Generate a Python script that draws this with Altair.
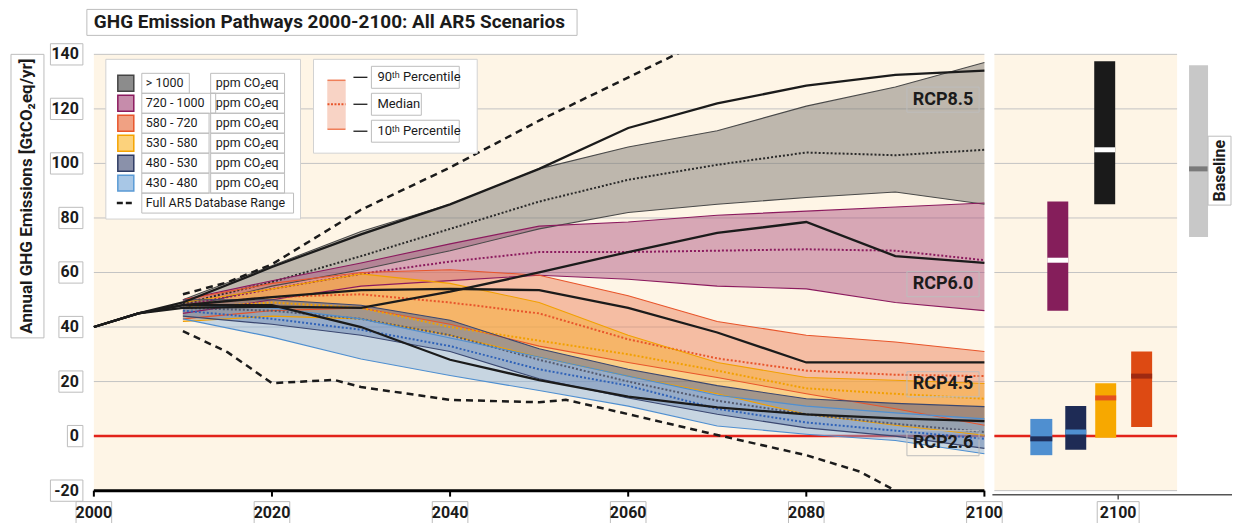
import altair as alt
import pandas as pd

FONT = "Roboto, Liberation Sans, sans-serif"
INK = "#1b1b1b"
BEIGE = "#FEF5E6"
GRID = "#C4C4C4"
BOXC = "#BDBDBD"

# ---------------- data ----------------
band_years = [2010, 2020, 2030, 2040, 2050, 2060, 2070, 2080, 2090, 2100]
categories = ["> 1000", "720 - 1000", "580 - 720", "530 - 580", "480 - 530", "430 - 480"]
pct10 = {
    "> 1000":     [47, 55, 61, 68, 76, 82, 85, 87.5, 89.5, 85],
    "720 - 1000": [45, 50, 55, 57, 59, 57.5, 55, 54, 49, 46],
    "580 - 720":  [43, 46, 47, 41, 33, 27, 21.5, 15.5, 10, 4],
    "530 - 580":  [42, 44, 43, 37, 29, 22, 15.5, 8, 4, 0.3],
    "480 - 530":  [44, 41, 37, 31, 21, 14, 8, 3, 0, -4.5],
    "430 - 480":  [43, 36.3, 28.3, 22.2, 16.7, 11, 3.7, 0.7, -1.6, -6.5],
}
pct50 = {
    "> 1000":     [48.5, 56.5, 66, 76, 86, 94, 99.5, 104, 103, 105],
    "720 - 1000": [48, 54, 59.5, 64, 67.5, 67.5, 68, 68.5, 68, 64.5],
    "580 - 720":  [48, 51, 52, 49, 45, 35.5, 28.5, 24, 22.5, 22],
    "530 - 580":  [47, 49, 47, 40, 35, 30, 24, 17.5, 15.5, 13.7],
    "480 - 530":  [47, 46, 43, 37, 28, 20, 13, 8, 4.5, 1.5],
    "430 - 480":  [46, 43, 39, 33, 24.5, 18.5, 10, 5, 2, -1],
}
pct90 = {
    "> 1000":     [50, 62.5, 75, 85, 98, 106, 112, 121, 128, 137],
    "720 - 1000": [50, 57, 63.5, 70.5, 77, 78.5, 81, 82.5, 84, 85.5],
    "580 - 720":  [50, 56, 60, 61, 59, 51.5, 42, 37, 34.5, 31],
    "530 - 580":  [49, 54, 59.5, 56, 49, 37, 27, 21.5, 20.5, 19.3],
    "480 - 530":  [50, 50, 48, 42.5, 32, 24.5, 18.5, 13.7, 12, 10.8],
    "430 - 480":  [48, 47, 43, 36, 29, 22, 15, 11, 8.5, 6.3],
}
rcp_years = [2000, 2005, 2010, 2020, 2030, 2040, 2050, 2060, 2070, 2080, 2090, 2100]
rcp_names = ["RCP8.5", "RCP6.0", "RCP4.5", "RCP2.6"]
rcp85 = [40, 45, 49, 62, 74, 85, 98, 113, 122, 128.5, 132.5, 134]
rcp60 = [40, 45, 47, 47.5, 47, 53, 60, 67.5, 74.5, 78.5, 66, 63.5]
rcp45 = [40, 45, 48, 51, 53.5, 54, 53.5, 47, 38, 27, 27, 27]
rcp26 = [40, 45, 48, 48, 40, 28, 20.5, 14.5, 10.5, 8, 6.5, 5.5]
range_hi_years = [2010, 2015, 2020, 2030, 2040, 2050, 2066]
range_hi = [52, 56.4, 63, 83, 98.5, 115.7, 141]
range_lo_years = [2010, 2015, 2020, 2027, 2030, 2040, 2050, 2053, 2059, 2070, 2080, 2086, 2090]
range_lo = [38.5, 30.8, 19.4, 20.6, 18, 13.3, 12.4, 13.3, 8.8, 0.4, -7, -13, -20]
bar_cats = ["430 - 480", "480 - 530", "530 - 580", "580 - 720", "720 - 1000", "> 1000", "Baseline"]
bar_min = [-7, -5, -0.6, 3.3, 46, 85, 73]
bar_med = [-1, 1.5, 14, 22, 64.5, 105, 98]
bar_max = [6.3, 11, 19.4, 31, 86, 137.5, 136]
y_ticks = [-20, 0, 20, 40, 60, 80, 100, 120, 140]
x_ticks = [2000, 2020, 2040, 2060, 2080, 2100]

# ---------------- styles / layout ----------------
band_fill = ["#7E7A74", "#A8497A", "#EC8660", "#F6AE3A", "#4E5E8C", "#86B0DB"]
band_op = [0.5, 0.45, 0.5, 0.55, 0.5, 0.45]
band_edge = ["#4A4A4A", "#8B1A5E", "#E8552B", "#F2A000", "#3A4770", "#4F8FD0"]
band_medc = ["#2A2A2A", "#8B1A5E", "#E8552B", "#F2A000", "#555B70", "#2F62B8"]
sw_fill = ["#8C8C8C", "#C68CAB", "#F0A183", "#FCD27C", "#8A91AA", "#A8C7E6"]
sw_stroke = ["#444444", "#8B1A5E", "#E8552B", "#F5A300", "#2E3B63", "#5B9BD5"]
bar_fill = ["#4F8FD0", "#1E2B55", "#F7A800", "#DD4A13", "#851E5B", "#1A1A1A", "#C8C8C8"]
bar_medc = ["#1F2E5A", "#4F8FD0", "#E4501E", "#9E2A12", "#FFFFFF", "#FFFFFF", "#7A7A7A"]

W, H = 1140, 437
PX_PER_YEAR = 8.92
X_END = 2000 + W / PX_PER_YEAR


def slot(px):
    """side-panel slot: pixel offset from the plot's left edge -> x-scale units"""
    return 2000 + px / PX_PER_YEAR


bar_slot = {"430 - 480": (938, 960), "480 - 530": (973, 994), "530 - 580": (1003, 1024),
            "580 - 720": (1039, 1060), "720 - 1000": (955, 976), "> 1000": (1002, 1023),
            "Baseline": (1097, 1116)}
side_bg = (902, 1085)
side_tick = 1026
rcp_label_at = {"RCP8.5": 123.4, "RCP6.0": 55.7, "RCP4.5": 19.0, "RCP2.6": -2.6}

xs = alt.Scale(domain=[2000, X_END], nice=False, zero=False)
ys = alt.Scale(domain=[-20, 140], nice=False, zero=False)
dummy = pd.DataFrame({"a": [0]})


def X(f):
    return alt.X(f, scale=xs, axis=None)


def Y(f):
    return alt.Y(f, scale=ys, axis=None)


def txt(s, x, y, size=13, weight="normal", align="left", angle=0, color=INK):
    return alt.Chart(dummy).mark_text(
        text=s, font=FONT, fontSize=size, fontWeight=weight, align=align,
        baseline="middle", angle=angle, color=color
    ).encode(x=alt.value(x), y=alt.value(y))


def box(x1, x2, y1, y2, stroke=BOXC, fill="white", fop=0.0, sw=1.0):
    return alt.Chart(dummy).mark_rect(
        stroke=stroke, strokeWidth=sw, fill=fill, fillOpacity=fop
    ).encode(x=alt.value(x1), x2=alt.value(x2), y=alt.value(y1), y2=alt.value(y2))


def hseg(x1, x2, y, color=INK, sw=1.2, dash=None):
    kw = dict(color=color, strokeWidth=sw)
    if dash:
        kw["strokeDash"] = dash
    return alt.Chart(dummy).mark_rule(**kw).encode(
        x=alt.value(x1), x2=alt.value(x2), y=alt.value(y))


# ---------------- tables ----------------
band_tables = {
    c: pd.DataFrame({"year": band_years, "lo": pct10[c], "med": pct50[c], "hi": pct90[c]})
    for c in categories
}
rcp_df = pd.DataFrame([
    {"name": n, "year": yr, "v": v}
    for n, vals in zip(rcp_names, [rcp85, rcp60, rcp45, rcp26])
    for yr, v in zip(rcp_years, vals)
])
rhi_df = pd.DataFrame({"year": range_hi_years, "v": range_hi})
rlo_df = pd.DataFrame({"year": range_lo_years, "v": range_lo})

x0s, x1s = slot(side_bg[0]), slot(side_bg[1])
bg_df = pd.DataFrame({"x": [2000, x0s], "x2": [2100, x1s], "y": [-20, -20], "y2": [140, 140]})
grid_df = pd.DataFrame({"v": y_ticks * 2, "x": [2000] * 9 + [x0s] * 9, "x2": [2100] * 9 + [x1s] * 9})
zero_df = pd.DataFrame({"v": [0, 0], "x": [2000, x0s], "x2": [2100, x1s]})
axis_df = pd.DataFrame({"v": [-20], "x": [2000], "x2": [2100]})

# ---------------- layers ----------------
beige = alt.Chart(bg_df).mark_rect(fill=BEIGE).encode(
    x=X("x:Q"), x2="x2:Q",
    y=alt.Y("y:Q", scale=ys, axis=alt.Axis(values=y_ticks, labels=False, ticks=False, title=None,
                                            grid=False, domainColor="black", domainWidth=3)),
    y2="y2:Q",
)
layers = [
    beige,
    alt.Chart(grid_df).mark_rule(color=GRID, strokeWidth=1).encode(y=Y("v:Q"), x=X("x:Q"), x2="x2:Q"),
    alt.Chart(zero_df).mark_rule(color="#E2231A", strokeWidth=2.5).encode(y=Y("v:Q"), x=X("x:Q"), x2="x2:Q"),
]
for i, c in enumerate(categories):
    layers.append(alt.Chart(band_tables[c]).mark_area(color=band_fill[i], opacity=band_op[i]).encode(
        x=X("year:Q"), y=Y("lo:Q"), y2="hi:Q"))
for i, c in enumerate(categories):
    for f in ["lo", "hi"]:
        layers.append(alt.Chart(band_tables[c]).mark_line(color=band_edge[i], strokeWidth=1.1).encode(
            x=X("year:Q"), y=Y(f"{f}:Q")))
    layers.append(alt.Chart(band_tables[c]).mark_line(color=band_medc[i], strokeWidth=2,
                                                      strokeDash=[2, 2]).encode(
        x=X("year:Q"), y=Y("med:Q")))
for d in [rhi_df, rlo_df]:
    layers.append(alt.Chart(d).mark_line(color=INK, strokeWidth=2.5, strokeDash=[7, 5], clip=True).encode(
        x=X("year:Q"), y=Y("v:Q")))
layers.append(alt.Chart(rcp_df).mark_line(color=INK, strokeWidth=2.3).encode(
    x=X("year:Q"), y=Y("v:Q"), detail="name:N"))

# bottom axis of main panel
layers.append(alt.Chart(axis_df).mark_rule(color="black", strokeWidth=3).encode(
    y=Y("v:Q"), x=X("x:Q"), x2="x2:Q"))
xt_df = pd.DataFrame({"yr": x_ticks, "t": [str(v) for v in x_ticks]})
xt_df["a"] = xt_df["yr"] - 2.0
xt_df["b"] = xt_df["yr"] + 2.0
layers.append(alt.Chart(xt_df).mark_rule(color="black", strokeWidth=2).encode(
    x=X("yr:Q"), y=alt.value(437), y2=alt.value(443)))
layers.append(alt.Chart(xt_df).mark_rect(stroke=BOXC, strokeWidth=1, fill="white", fillOpacity=0).encode(
    x=X("a:Q"), x2="b:Q", y=alt.value(448), y2=alt.value(470)))
layers.append(alt.Chart(xt_df).mark_text(font=FONT, fontSize=16, fontWeight="bold", color=INK,
                                         align="center", baseline="middle").encode(
    x=X("yr:Q"), y=alt.value(459), text="t:N"))

# RCP labels
rl_df = pd.DataFrame({"name": list(rcp_label_at.keys()), "v": list(rcp_label_at.values())})
rl_df["lo"] = rl_df["v"] - 4.6
rl_df["hi"] = rl_df["v"] + 4.6
rl_df["xa"] = 2091.3
rl_df["xb"] = 2099.4
rl_df["xc"] = 2095.35
layers.append(alt.Chart(rl_df).mark_rect(stroke=BOXC, strokeWidth=1, fill="white", fillOpacity=0).encode(
    x=X("xa:Q"), x2="xb:Q", y=Y("lo:Q"), y2="hi:Q"))
layers.append(alt.Chart(rl_df).mark_text(font=FONT, fontSize=18, fontWeight="bold", color=INK,
                                         align="center", baseline="middle").encode(
    x=X("xc:Q"), y=Y("v:Q"), text="name:N"))

# y tick labels with boxes
yt_df = pd.DataFrame({"v": y_ticks, "t": [str(v) for v in y_ticks]})
yt_df["lo"] = yt_df["v"] - 3.9
yt_df["hi"] = yt_df["v"] + 3.9
for n in sorted(set(len(t) for t in yt_df["t"])):
    sub = yt_df[yt_df["t"].str.len() == n].reset_index(drop=True)
    w = 7 + 8.5 * n
    layers.append(alt.Chart(sub).mark_rect(stroke=BOXC, strokeWidth=1, fill="white", fillOpacity=0).encode(
        x=alt.value(-11 - w), x2=alt.value(-11), y=Y("lo:Q"), y2="hi:Q"))
layers.append(alt.Chart(yt_df).mark_text(font=FONT, fontSize=16, fontWeight="bold", color=INK,
                                         align="right", baseline="middle").encode(
    x=alt.value(-15), y=Y("v:Q"), text="t:N"))

# side panel: 2100 ranges
bdf = pd.DataFrame({"cat": bar_cats, "mn": bar_min, "md": bar_med, "mx": bar_max})
bdf["xa"] = [slot(bar_slot[c][0]) for c in bar_cats]
bdf["xb"] = [slot(bar_slot[c][1]) for c in bar_cats]
layers.append(alt.Chart(bdf).mark_rect().encode(
    x=X("xa:Q"), x2="xb:Q", y=Y("mn:Q"), y2="mx:Q",
    color=alt.Color("cat:N", scale=alt.Scale(domain=bar_cats, range=bar_fill), legend=None)))
layers.append(alt.Chart(bdf).mark_rule(strokeWidth=5).encode(
    x=X("xa:Q"), x2="xb:Q", y=Y("md:Q"),
    stroke=alt.Stroke("cat:N", scale=alt.Scale(domain=bar_cats, range=bar_medc), legend=None)))
layers.append(hseg(side_bg[0] - 2, W, 441, color="#555555", sw=1.5))
layers.append(alt.Chart(dummy).mark_rule(color="#555555", strokeWidth=1.5).encode(
    x=alt.value(side_tick), y=alt.value(441), y2=alt.value(446)))
layers.append(box(side_tick - 21, side_tick + 21, 448, 470))
layers.append(txt("2100", side_tick, 459, size=16, weight="bold", align="center"))
layers.append(box(1116, 1139, 82, 151))
layers.append(txt("Baseline", 1128, 116.5, size=16, weight="bold", align="center", angle=270))

# legend 1
layers.append(box(12, 207, 5, 165, stroke="#D2D2D2", fill="white", fop=1))
for i, c in enumerate(categories):
    yc = 29 + 20 * i
    layers.append(box(24, 40, yc - 8, yc + 8, stroke=sw_stroke[i], fill=sw_fill[i], fop=1, sw=1.5))
    layers.append(box(48, 48 + 8 + 6.6 * len(c), yc - 10, yc + 10))
    layers.append(txt(c, 52, yc, size=12.5))
    layers.append(box(117, 191, yc - 10, yc + 10))
    layers.append(txt("ppm CO\u2082eq", 122, yc, size=12.5))
yd = 29 + 20 * 6
layers.append(hseg(23, 41, yd, color=INK, sw=2.5, dash=[6, 3]))
layers.append(box(48, 200, yd - 10, yd + 10))
layers.append(txt("Full AR5 Database Range", 52, yd, size=12.5))

# legend 2
layers.append(box(220, 384, 5, 99, stroke="#D2D2D2", fill="white", fop=1))
layers.append(box(234, 252, 26, 75, stroke="#F8D3C5", fill="#F8D3C5", fop=1, sw=0.5))
layers.append(hseg(234, 252, 26, color="#EF7F5A", sw=1.5))
layers.append(hseg(234, 252, 75, color="#EF7F5A", sw=1.5))
layers.append(hseg(234, 252, 50, color="#E8552B", sw=2, dash=[2, 1.5]))
for yy, lab, w in [(23, "90\u1d57\u02b0 Percentile", 88), (50, "Median", 50), (77, "10\u1d57\u02b0 Percentile", 88)]:
    layers.append(hseg(260, 274, yy, color=INK, sw=1.3))
    layers.append(box(278, 278 + w, yy - 11, yy + 11))
    layers.append(txt(lab, 284, yy, size=13))

# title and y title
layers.append(box(-7, 484, -45, -19, stroke=BOXC, fill="white", fop=1))
layers.append(txt("GHG Emission Pathways 2000-2100: All AR5 Scenarios", 0, -32, size=19, weight="bold"))
layers.append(box(-83, -50, 0, 284))
layers.append(txt("Annual GHG Emissions [GtCO\u2082eq/yr]", -66.5, 142, size=17, weight="bold",
                  align="center", angle=270))

chart = alt.layer(*layers).properties(
    width=W, height=H,
    padding={"left": 2, "top": 0, "right": 0, "bottom": 0},
).configure_view(stroke=None)

chart.save("out.html", embed_options={"renderer": "svg", "actions": False})
